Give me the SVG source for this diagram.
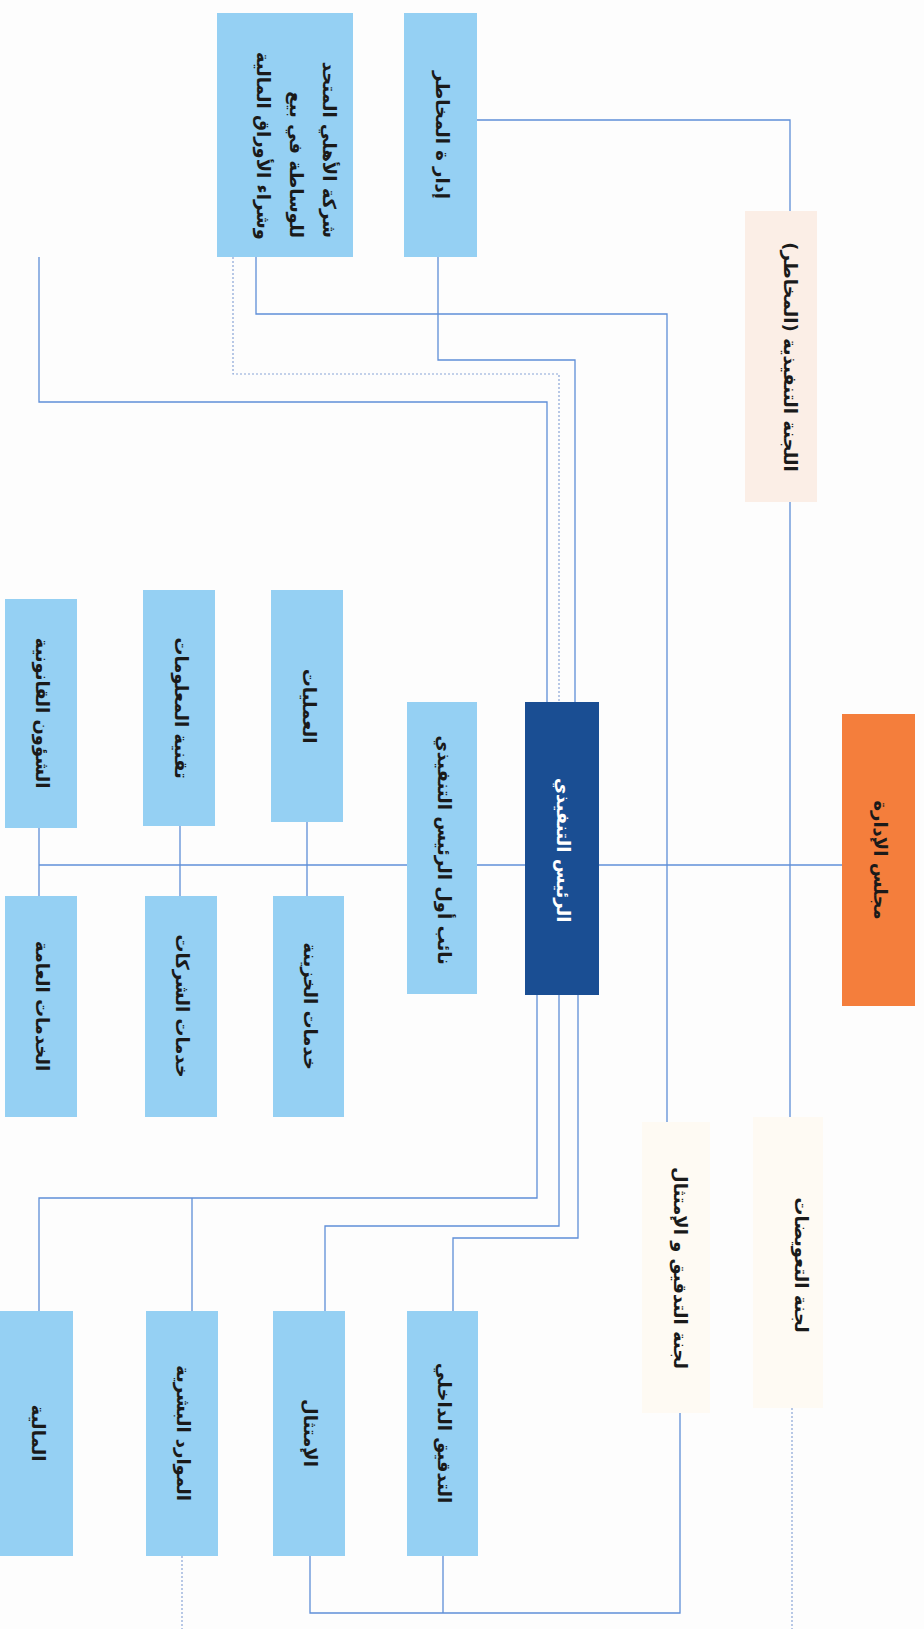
<svg xmlns="http://www.w3.org/2000/svg" width="924" height="1629" viewBox="0 0 924 1629">
<style>
.bg{fill:#fdfdfd}
.lb{fill:#95d0f3}
.cr{fill:#fefaf3}
.pe{fill:#fbeee6}
.ln{fill:none;stroke:#5f8fd8;stroke-width:1.3}
.dt{fill:none;stroke:#8aa6d8;stroke-width:1.2;stroke-dasharray:2 2}
text{font-family:"DejaVu Sans",sans-serif;font-weight:bold;font-size:18px;fill:#1a1a1a;text-anchor:middle;dominant-baseline:central}
.w{fill:#ffffff}
</style>
<rect class="bg" x="0" y="0" width="924" height="1629"/>
<g id="connectors">
<path class="ln" d="M39 865 H842"/>
<path class="ln" d="M39 828 V896 M180 826 V896 M307 822 V896"/>
<path class="ln" d="M477 120 H790 V1117"/>
<path class="dt" d="M792 1408 V1629"/>
<path class="ln" d="M256 257 V314 H667 V1122"/>
<path class="ln" d="M438 257 V360 H575 V702"/>
<path class="dt" d="M233 257 V374 H559 V702"/>
<path class="ln" d="M39 257 V402 H547 V702"/>
<path class="ln" d="M537 995 V1198 H39 V1311 M192 1198 V1311"/>
<path class="ln" d="M559 995 V1226 H325 V1311"/>
<path class="ln" d="M578 995 V1238 H453 V1311"/>
<path class="ln" d="M310 1556 V1613 H680 V1413 M443 1556 V1613"/>
<path class="dt" d="M182 1556 V1629"/>
</g>
<g id="risk"><rect class="lb" x="404" y="13" width="73" height="244"/><text transform="translate(442,135) rotate(90)">إدار ة المخاطر</text></g>
<g id="brokerage"><rect class="lb" x="217" y="13" width="136" height="244"/>
<text direction="rtl" style="text-anchor:start" transform="translate(329,238) rotate(90)">شركة الأهلي المتحد</text>
<text direction="rtl" style="text-anchor:start" transform="translate(296,238) rotate(90)">للوساطة في بيع</text>
<text direction="rtl" style="text-anchor:start" transform="translate(263,240) rotate(90)">وشراء الأوراق المالية</text></g>
<g id="execcommittee"><rect class="pe" x="745" y="211" width="72" height="291"/><text transform="translate(790,357) rotate(90)">اللجنة التنفيذية (المخاطر)</text></g>
<g id="board"><rect fill="#f47e3c" x="842" y="714" width="73" height="292"/><text transform="translate(880,860) rotate(90)">مجلس الإدارة</text></g>
<g id="ceo"><rect fill="#1a4e93" x="525" y="702" width="74" height="293"/><text class="w" transform="translate(563,850) rotate(90)">الرئيس التنفيذي</text></g>
<g id="deputy"><rect class="lb" x="407" y="702" width="70" height="292"/><text transform="translate(444,850) rotate(90)">نائب أول الرئيس التنفيذي</text></g>
<g id="operations"><rect class="lb" x="271" y="590" width="72" height="232"/><text transform="translate(309,706) rotate(90)">العمليات</text></g>
<g id="treasury"><rect class="lb" x="273" y="896" width="71" height="221"/><text transform="translate(310,1006) rotate(90)">خدمات الخزينة</text></g>
<g id="it"><rect class="lb" x="143" y="590" width="72" height="236"/><text transform="translate(181,708) rotate(90)">تقنية المعلومات</text></g>
<g id="corporate"><rect class="lb" x="145" y="896" width="72" height="221"/><text transform="translate(182,1006) rotate(90)">خدمات الشركات</text></g>
<g id="legal"><rect class="lb" x="5" y="599" width="72" height="229"/><text transform="translate(42,713) rotate(90)">الشؤون القانونية</text></g>
<g id="general"><rect class="lb" x="5" y="896" width="72" height="221"/><text transform="translate(42,1006) rotate(90)">الخدمات العامة</text></g>
<g id="finance"><rect class="lb" x="0" y="1311" width="73" height="245"/><text transform="translate(38,1433) rotate(90)">المالية</text></g>
<g id="hr"><rect class="lb" x="146" y="1311" width="72" height="245"/><text transform="translate(183,1433) rotate(90)">الموارد البشرية</text></g>
<g id="compliance"><rect class="lb" x="273" y="1311" width="72" height="245"/><text transform="translate(310,1433) rotate(90)">الإمتثال</text></g>
<g id="internalaudit"><rect class="lb" x="407" y="1311" width="71" height="245"/><text transform="translate(444,1433) rotate(90)">التدقيق الداخلي</text></g>
<g id="auditcommittee"><rect class="cr" x="642" y="1122" width="68" height="291"/><text transform="translate(680,1268) rotate(90)">لجنة التدقيق و الإمتثال</text></g>
<g id="compcommittee"><rect class="cr" x="753" y="1117" width="70" height="291"/><text transform="translate(801,1265) rotate(90)">لجنة التعويضات</text></g>
</svg>
